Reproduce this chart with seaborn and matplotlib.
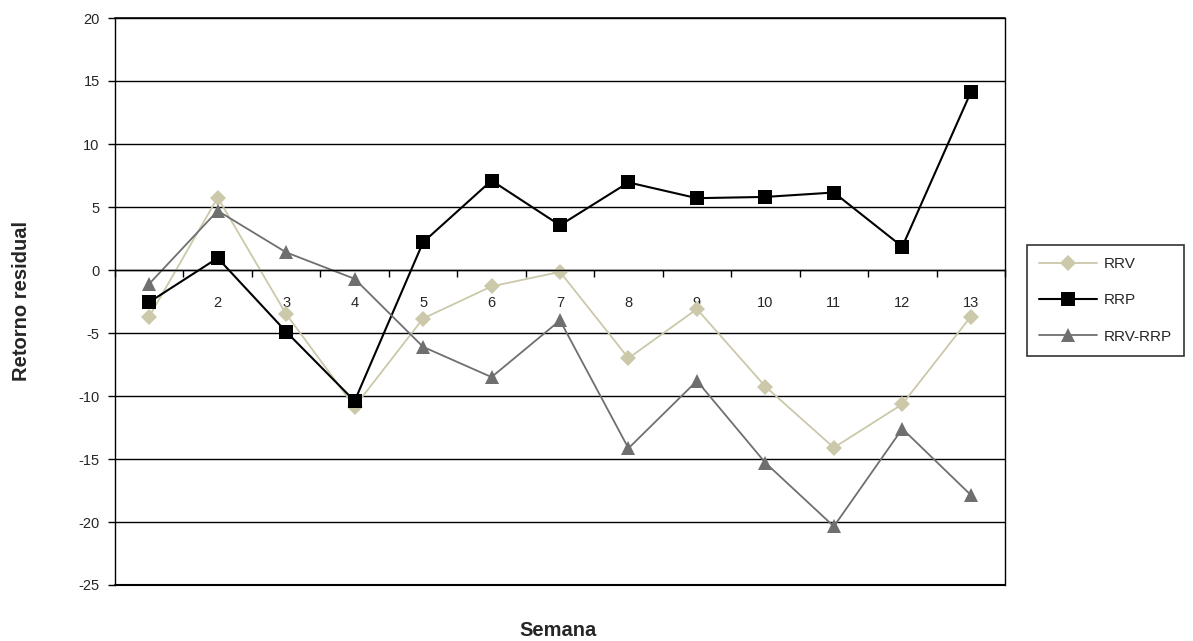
import seaborn as sns
import pandas as pd
import matplotlib.pyplot as plt
from matplotlib.ticker import FixedLocator, NullFormatter

# DATA
semana = list(range(1, 14))
rrv = [-3.7, 5.75, -3.5, -10.85, -3.85, -1.3, -0.15, -7.0, -3.1, -9.25, -14.1, -10.65, -3.7]
rrp = [-2.55, 0.95, -4.9, -10.4, 2.2, 7.1, 3.55, 6.95, 5.7, 5.8, 6.15, 1.85, 14.1]
rrv_rrp = [-1.1, 4.7, 1.4, -0.7, -6.1, -8.5, -4.0, -14.15, -8.8, -15.3, -20.35, -12.6, -17.85]
y_ticks = [-25, -20, -15, -10, -5, 0, 5, 10, 15, 20]

series = ["RRV", "RRP", "RRV-RRP"]
colors = {"RRV": "#ccc8aa", "RRP": "#000000", "RRV-RRP": "#6f6f6f"}
markers = {"RRV": "D", "RRP": "s", "RRV-RRP": "^"}
msizes = {"RRV": 8, "RRP": 9.5, "RRV-RRP": 10}
lwidths = {"RRV": 1.3, "RRP": 1.5, "RRV-RRP": 1.3}

df = pd.DataFrame({
    "Semana": semana * 3,
    "valor": rrv + rrp + rrv_rrp,
    "serie": ["RRV"] * 13 + ["RRP"] * 13 + ["RRV-RRP"] * 13,
})

# PLOT SETTING
sns.set_style("white")
plt.rcParams['font.family'] = ['Liberation Sans', 'DejaVu Sans']
fig = plt.figure(figsize=(11.93, 6.41), dpi=100)
ax = fig.add_axes([115 / 1193, 1 - 585 / 641, 890 / 1193, 567 / 641])

for s in series:
    sns.lineplot(data=df[df["serie"] == s], x="Semana", y="valor", color=colors[s],
                 marker=markers[s], markersize=msizes[s], markeredgewidth=0,
                 linewidth=lwidths[s], label=s, ax=ax)

ax.set_xlim(0.5, 13.5)
ax.set_ylim(-25, 20)
ax.set_yticks(y_ticks)
ax.set_yticklabels([str(v) for v in y_ticks], fontsize=10.5)
ax.yaxis.grid(True, color="black", linewidth=1)
ax.set_axisbelow(True)

# x axis crossing at 0, ticks between categories
ax.spines['bottom'].set_position(('data', 0))
ax.xaxis.set_major_locator(FixedLocator([i + 0.5 for i in range(0, 14)]))
ax.xaxis.set_major_formatter(NullFormatter())
ax.xaxis.set_minor_locator(FixedLocator(semana))
ax.set_xticklabels([str(v) for v in semana], minor=True, fontsize=10.5)
ax.tick_params(axis='x', which='both', bottom=True)
ax.tick_params(axis='y', left=True)
ax.tick_params(axis='x', which='major', direction='out', length=5, width=1, color='black')
ax.tick_params(axis='x', which='minor', length=0, pad=19)
ax.tick_params(axis='y', direction='out', length=5, width=1, color='black', pad=6)
for sp in ax.spines.values():
    sp.set_color("black")
    sp.set_linewidth(1)
ax.spines['top'].set_visible(False)

# frame box lines
ax.axhline(-25, color="black", linewidth=1.5, clip_on=False)
ax.axhline(20, color="black", linewidth=1.2, clip_on=False)

ax.set_xlabel("")
ax.set_ylabel("")
fig.text(22 / 1193, 1 - 301 / 641, "Retorno residual", rotation=90, ha="center", va="center",
         fontsize=14.5, fontweight="bold")
fig.text(558 / 1193, 1 - 630 / 641, "Semana", ha="center", va="center",
         fontsize=14.5, fontweight="bold")

leg = ax.legend(loc="upper left", bbox_to_anchor=(1027 / 1193, 1 - 245 / 641),
                bbox_transform=fig.transFigure, frameon=True, fancybox=False,
                edgecolor="black", fontsize=11, handlelength=3.8, labelspacing=1.45,
                borderpad=0.8, handletextpad=0.4, borderaxespad=0)
leg.get_frame().set_linewidth(1.2)

plt.savefig("out.png", dpi=100)
plt.close()
